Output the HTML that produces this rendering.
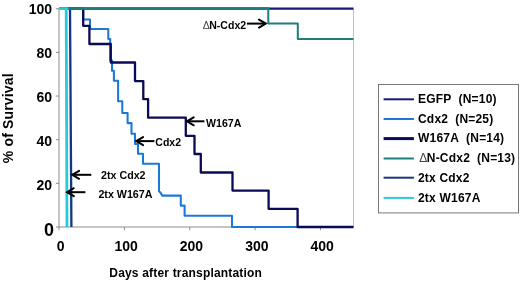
<!DOCTYPE html>
<html><head><meta charset="utf-8"><title>Survival</title>
<style>html,body{margin:0;padding:0;background:#fff;width:520px;height:281px;overflow:hidden}body{position:relative;font-family:"Liberation Sans",sans-serif}</style></head>
<body>
<svg width="520" height="281" viewBox="0 0 520 281" style="display:block;position:absolute;left:0;top:0" font-family="Liberation Sans, sans-serif" font-weight="bold" fill="#000">
<rect x="0" y="0" width="520" height="281" fill="#fff"/>
<path d="M353.5,8.5V227" stroke="#c2c2c2" stroke-width="1" fill="none"/>
<path d="M59,8.5V230.2" stroke="#8c8c8c" stroke-width="1" fill="none"/>
<path d="M56,227H353.5" stroke="#8c8c8c" stroke-width="1" fill="none"/>
<path d="M56,8.75H59" stroke="#8c8c8c" stroke-width="1" fill="none"/>
<path d="M56,52.40H59" stroke="#8c8c8c" stroke-width="1" fill="none"/>
<path d="M56,96.05H59" stroke="#8c8c8c" stroke-width="1" fill="none"/>
<path d="M56,139.70H59" stroke="#8c8c8c" stroke-width="1" fill="none"/>
<path d="M56,183.35H59" stroke="#8c8c8c" stroke-width="1" fill="none"/>
<path d="M124.38,227V230.2" stroke="#8c8c8c" stroke-width="1" fill="none"/>
<path d="M189.75,227V230.2" stroke="#8c8c8c" stroke-width="1" fill="none"/>
<path d="M255.13,227V230.2" stroke="#8c8c8c" stroke-width="1" fill="none"/>
<path d="M320.50,227V230.2" stroke="#8c8c8c" stroke-width="1" fill="none"/>
<path d="M59,8.6H66.2L67,227" stroke="#27c9dc" stroke-width="2.8" fill="none"/>
<path d="M59,8.6H70L71.4,227" stroke="#17367f" stroke-width="2.3" fill="none"/>
<path d="M59,8.60H83.2V19.40H90.0V28.90H108.3V38.90H110.2V60.50H112V70.70H113.9V80.80H118.1V101.30H122.3V113.00H127.6V123.10H131.5V133.70H135V144.00H138V153.80H143V163.80H159V191.2L160.3,192.4L162.3,195.60H180.8V205.60H184.6V215.70H232V227.00H297.6" stroke="#1b78d8" stroke-width="2.05" fill="none" stroke-linejoin="round"/>
<path d="M59,8.60H83.2V25.80H89.4V44.00H110.8V62.50H135V81.10H143.3V99.20H148.1V117.70H185.8V135.80H194.5V154.00H200.8V172.50H232.5V190.60H268.6V208.80H297.6V227.00H353.5" stroke="#0b0b55" stroke-width="2.3" fill="none" stroke-linejoin="round"/>
<path d="M59,8.6H353.5" stroke="#17177c" stroke-width="2.4" fill="none"/>
<path d="M59,8.6H268.3V23.5H297.8V39H353.5" stroke="#1c7f7c" stroke-width="2.0" fill="none" stroke-linejoin="round"/>
<path d="M59,8.55H269.3" stroke="#1c7f7c" stroke-width="2.6" fill="none"/>
<path d="M59,8.6H68.3" stroke="#27c9dc" stroke-width="2.8" fill="none"/>
<rect x="378.5" y="84.5" width="140" height="128.4" fill="#fff" stroke="#787878" stroke-width="1"/>
<path d="M383.6,99.3H413.9" stroke="#17177c" stroke-width="2.0" fill="none"/>
<path d="M383.6,119.0H413.9" stroke="#1b78d8" stroke-width="2.0" fill="none"/>
<path d="M383.6,138.6H413.9" stroke="#0b0b55" stroke-width="3" fill="none"/>
<path d="M383.6,158.5H413.9" stroke="#1c7f7c" stroke-width="2.0" fill="none"/>
<path d="M383.6,177.7H413.9" stroke="#17367f" stroke-width="2.0" fill="none"/>
<path d="M383.6,197.9H413.9" stroke="#27c9dc" stroke-width="2.0" fill="none"/>
<g style="filter:grayscale(1)">
<text x="52" y="13.75" font-size="14" text-anchor="end">100</text>
<text x="52" y="57.79" font-size="14" text-anchor="end">80</text>
<text x="52" y="101.83" font-size="14" text-anchor="end">60</text>
<text x="52" y="145.87" font-size="14" text-anchor="end">40</text>
<text x="52" y="189.91" font-size="14" text-anchor="end">20</text>
<text x="54" y="236.2" font-size="18" text-anchor="end">0</text>
<text x="60.70" y="251.4" font-size="14" text-anchor="middle">0</text>
<text x="126.08" y="251.4" font-size="14" text-anchor="middle">100</text>
<text x="191.45" y="251.4" font-size="14" text-anchor="middle">200</text>
<text x="256.83" y="251.4" font-size="14" text-anchor="middle">300</text>
<text x="322.20" y="251.4" font-size="14" text-anchor="middle">400</text>
<text x="109.3" y="277.0" font-size="12" letter-spacing="0.18">Days after transplantation</text>
<text transform="translate(13.3,163.2) rotate(-90)" font-size="14" letter-spacing="0.16">% of Survival</text>
<text x="155.3" y="146.2" font-size="10.5">Cdx2</text>
<path d="M154.4,141.1H136.3" stroke="#000" stroke-width="2" fill="none"/><path d="M143.10000000000002,137.1L136.3,141.1L143.10000000000002,145.1" stroke="#000" stroke-width="2" fill="none" stroke-linecap="round" stroke-linejoin="miter"/>
<text x="206" y="126.5" font-size="10.6">W167A</text>
<path d="M204.4,121.3H186.9" stroke="#000" stroke-width="2" fill="none"/><path d="M193.70000000000002,117.3L186.9,121.3L193.70000000000002,125.3" stroke="#000" stroke-width="2" fill="none" stroke-linecap="round" stroke-linejoin="miter"/>
<text x="209.2" y="28.6" font-size="10.55">N-Cdx2</text>
<text x="202.8" y="28.6" font-size="10.5" font-weight="normal" fill="#444">&#916;</text>
<path d="M246.9,23.6H265.8" stroke="#000" stroke-width="2" fill="none"/><path d="M259.0,19.6L265.8,23.6L259.0,27.6" stroke="#000" stroke-width="2" fill="none" stroke-linecap="round" stroke-linejoin="miter"/>
<text x="101" y="179.1" font-size="10.7">2tx Cdx2</text>
<path d="M91.3,174.8H72.3" stroke="#000" stroke-width="2" fill="none"/><path d="M79.1,170.8L72.3,174.8L79.1,178.8" stroke="#000" stroke-width="2" fill="none" stroke-linecap="round" stroke-linejoin="miter"/>
<text x="98.4" y="198" font-size="10.7">2tx W167A</text>
<path d="M85.4,192.2H67" stroke="#000" stroke-width="2" fill="none"/><path d="M73.8,188.2L67,192.2L73.8,196.2" stroke="#000" stroke-width="2" fill="none" stroke-linecap="round" stroke-linejoin="miter"/>
<text x="418" y="102.70" font-size="12" letter-spacing="0.2">EGFP&#160;&#160;(N=10)</text>
<text x="418" y="122.50" font-size="12" letter-spacing="0.2">Cdx2&#160;&#160;(N=25)</text>
<text x="418" y="142.30" font-size="12" letter-spacing="0.2">W167A&#160;&#160;(N=14)</text>
<text x="419.3" y="162.40" font-size="12" font-weight="normal" fill="#444">&#916;</text>
<text x="426.8" y="162.40" font-size="12" letter-spacing="0.2">N-Cdx2&#160;&#160;(N=13)</text>
<text x="418" y="182.10" font-size="12" letter-spacing="0.2">2tx Cdx2</text>
<text x="418" y="202.30" font-size="12" letter-spacing="0.2">2tx W167A</text>
</g>
</svg>
</body></html>
